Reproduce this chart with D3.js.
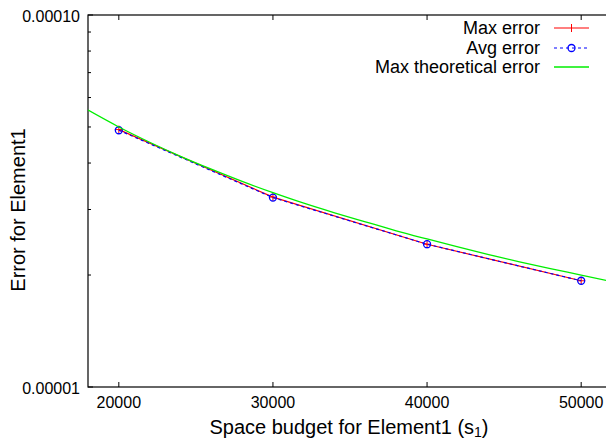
<!DOCTYPE html>
<html>
<head>
<meta charset="utf-8">
<script src="https://cdn.jsdelivr.net/npm/d3@7"></script>
<style>
  body { margin: 0; background: #fff; overflow: hidden; }
  text { font-family: "Liberation Sans", Arial, sans-serif; fill: #000; }
</style>
</head>
<body>
<div id="chart"></div>
<script>
const budgets = [20000, 30000, 40000, 50000];
const maxError = [4.92e-5, 3.24e-5, 2.42e-5, 1.93e-5];
const avgError = [4.90e-5, 3.23e-5, 2.42e-5, 1.93e-5];

// theoretical curve
const theoX = [18000, 20000, 22000, 24000, 26000, 28000, 30000, 32000, 34000, 36000,
               38000, 40000, 42000, 44000, 46000, 48000, 50000, 52000];
const theoY = [5.55e-5, 5.0e-5, 4.55e-5, 4.17e-5, 3.85e-5, 3.57e-5, 3.33e-5, 3.12e-5, 2.94e-5, 2.78e-5,
               2.63e-5, 2.5e-5, 2.38e-5, 2.27e-5, 2.17e-5, 2.08e-5, 2.0e-5, 1.92e-5];

const xTicks = [20000, 30000, 40000, 50000];
const yTicks = [1e-5, 1e-4];
const yTickLabels = ["0.00001", "0.00010"];
const yMinor = [2e-5, 3e-5, 4e-5, 5e-5, 6e-5, 7e-5, 8e-5, 9e-5];

const seriesNames = ["Max error", "Avg error", "Max theoretical error"];

const width = 606, height = 444,
      margin = ({ top: 15, right: -6, bottom: 57, left: 88 });

const svg = d3.select("#chart")
    .append("svg")
    .attr("width", width)
    .attr("height", height);

const x = d3.scaleLinear()
    .domain([18000, 52000])
    .range([margin.left, width - margin.right]);

const y = d3.scaleLog()
    .domain([1e-5, 1e-4])
    .range([height - margin.bottom, margin.top]);

const x0 = margin.left, x1 = width - margin.right,
      y0 = height - margin.bottom, y1 = margin.top;

// border
svg.append("rect")
    .attr("x", x0).attr("y", y1)
    .attr("width", x1 - x0).attr("height", y0 - y1)
    .attr("fill", "none").attr("stroke", "#000").attr("stroke-width", 1.2);

// x ticks (bottom and mirrored on top)
const xt = svg.append("g");
xTicks.forEach(t => {
    xt.append("line").attr("x1", x(t)).attr("x2", x(t)).attr("y1", y0).attr("y2", y0 - 5)
        .attr("stroke", "#000");
    xt.append("line").attr("x1", x(t)).attr("x2", x(t)).attr("y1", y1).attr("y2", y1 + 5)
        .attr("stroke", "#000");
    xt.append("text").attr("x", x(t)).attr("y", y0 + 15)
        .attr("text-anchor", "middle").attr("dominant-baseline", "central")
        .style("font-size", "16px").text(d3.format("d")(t));
});

// y ticks
const yt = svg.append("g");
yTicks.forEach((t, i) => {
    yt.append("line").attr("x1", x0).attr("x2", x0 + 5).attr("y1", y(t)).attr("y2", y(t))
        .attr("stroke", "#000");
    yt.append("text").attr("x", x0 - 8).attr("y", y(t) + 1)
        .attr("text-anchor", "end").attr("dominant-baseline", "central")
        .style("font-size", "16px").text(yTickLabels[i]);
});
yMinor.forEach(t => {
    yt.append("line").attr("x1", x0).attr("x2", x0 + 3).attr("y1", y(t)).attr("y2", y(t))
        .attr("stroke", "#000");
});

// axis titles
svg.append("text")
    .attr("x", 349).attr("y", 427)
    .attr("text-anchor", "middle").attr("dominant-baseline", "central")
    .style("font-size", "20px")
    .html('Space budget for Element1 (s<tspan dy="5" font-size="14px">1</tspan><tspan dy="-5">)</tspan>');

svg.append("text")
    .attr("transform", `translate(18,210) rotate(-90)`)
    .attr("text-anchor", "middle").attr("dominant-baseline", "central")
    .style("font-size", "20px")
    .text("Error for Element1");

svg.append("clipPath").attr("id", "plot")
    .append("rect").attr("x", x0).attr("y", y1).attr("width", x1 - x0).attr("height", y0 - y1);

const line = d3.line().x(d => x(d[0])).y(d => y(d[1]));
const plot = svg.append("g").attr("clip-path", "url(#plot)");

const maxData = budgets.map((b, i) => [b, maxError[i]]);
const avgData = budgets.map((b, i) => [b, avgError[i]]);
const theoData = theoX.map((b, i) => [b, theoY[i]]);

// Max error: red, + markers
plot.append("path").datum(maxData).attr("d", line)
    .attr("fill", "none").attr("stroke", "#ff0000").attr("stroke-width", 1.2);
plot.selectAll(".plus").data(maxData).join("path")
    .attr("d", d => `M${x(d[0]) - 4},${y(d[1])}h8M${x(d[0])},${y(d[1]) - 4}v8`)
    .attr("stroke", "#ff0000").attr("stroke-width", 1);

// Avg error: blue dashed, circles
plot.append("path").datum(avgData).attr("d", line)
    .attr("fill", "none").attr("stroke", "#0000ff").attr("stroke-width", 1.2)
    .attr("stroke-dasharray", "3,3");
plot.selectAll(".circ").data(avgData).join("circle")
    .attr("cx", d => x(d[0])).attr("cy", d => y(d[1])).attr("r", 3.5)
    .attr("fill", "none").attr("stroke", "#0000ff").attr("stroke-width", 1.3);

// theoretical: green
plot.append("path").datum(theoData)
    .attr("d", line.curve(d3.curveMonotoneX))
    .attr("fill", "none").attr("stroke", "#00ee00").attr("stroke-width", 1.3);

// legend
const lg = svg.append("g");
const rows = [28, 48, 67];
seriesNames.forEach((name, i) => {
    lg.append("text").attr("x", 540).attr("y", rows[i])
        .attr("text-anchor", "end").attr("dominant-baseline", "central")
        .style("font-size", "18px").text(name);
});
lg.append("line").attr("x1", 554).attr("x2", 589).attr("y1", rows[0]).attr("y2", rows[0])
    .attr("stroke", "#ff0000").attr("stroke-width", 1.2);
lg.append("path").attr("d", `M571.5,${rows[0] - 4}v8`).attr("stroke", "#ff0000");
lg.append("line").attr("x1", 554).attr("x2", 589).attr("y1", rows[1]).attr("y2", rows[1])
    .attr("stroke", "#0000ff").attr("stroke-width", 1.2).attr("stroke-dasharray", "3,3");
lg.append("circle").attr("cx", 571.5).attr("cy", rows[1]).attr("r", 3.5)
    .attr("fill", "none").attr("stroke", "#0000ff").attr("stroke-width", 1.3);
lg.append("line").attr("x1", 554).attr("x2", 589).attr("y1", rows[2]).attr("y2", rows[2])
    .attr("stroke", "#00ee00").attr("stroke-width", 1.3);
</script>
</body>
</html>
